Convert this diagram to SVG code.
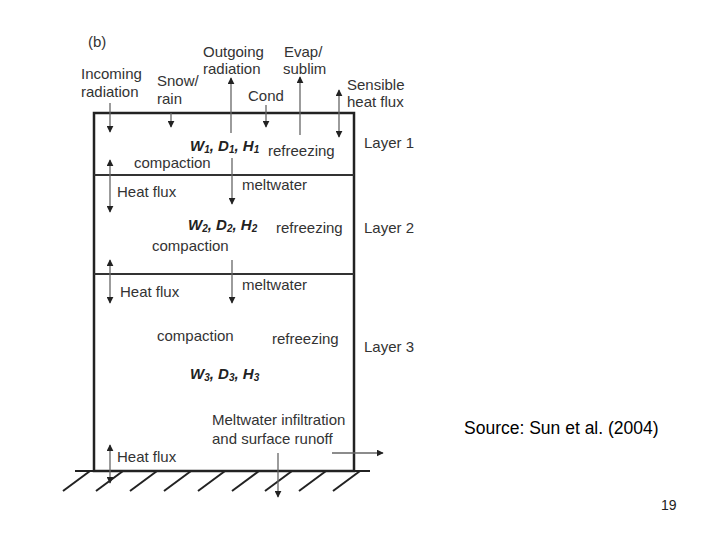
<svg xmlns="http://www.w3.org/2000/svg" width="720" height="540" viewBox="0 0 720 540">
<style>
text{font-family:"Liberation Sans",Arial,sans-serif;font-size:15px;fill:#333}
.b{font-weight:bold;font-style:italic;fill:#222}
.box{fill:none;stroke:#222;stroke-width:2.5}
.ly{stroke:#333;stroke-width:2}
.ar{stroke:#666;stroke-width:1.3;fill:none}
.h{stroke:#222;stroke-width:2}
</style>
<defs>
<marker id="ah" viewBox="0 0 10 10" refX="9" refY="5" markerWidth="7" markerHeight="7" markerUnits="userSpaceOnUse" orient="auto-start-reverse">
<path d="M0,0 L10,5 L0,10 z" fill="#222"/>
</marker>
</defs>
<rect width="720" height="540" fill="#fff"/>
<g id="ground">
<line class="h" x1="75" y1="471" x2="370" y2="471"/>
<line class="h" x1="63" y1="491" x2="90" y2="471"/>
<line class="h" x1="96" y1="491" x2="123" y2="471"/>
<line class="h" x1="130" y1="491" x2="157" y2="471"/>
<line class="h" x1="164" y1="491" x2="191" y2="471"/>
<line class="h" x1="198" y1="491" x2="225" y2="471"/>
<line class="h" x1="232" y1="491" x2="259" y2="471"/>
<line class="h" x1="265" y1="491" x2="292" y2="471"/>
<line class="h" x1="299" y1="491" x2="326" y2="471"/>
<line class="h" x1="333" y1="491" x2="360" y2="471"/>
</g>
<g id="snowpack">
<rect class="box" x="94" y="113" width="260" height="358"/>
<line class="ly" x1="94" y1="175" x2="354" y2="175"/>
<line class="ly" x1="94" y1="274" x2="354" y2="274"/>
</g>
<g id="connectors">
<line class="ar" x1="110" y1="103" x2="110" y2="132" marker-end="url(#ah)"/>
<line class="ar" x1="171" y1="113" x2="171" y2="127" marker-end="url(#ah)"/>
<line class="ar" x1="231" y1="133" x2="231" y2="78" marker-end="url(#ah)"/>
<line class="ar" x1="266" y1="105" x2="266" y2="127" marker-end="url(#ah)"/>
<line class="ar" x1="300" y1="135" x2="300" y2="77" marker-end="url(#ah)"/>
<line class="ar" x1="339" y1="90" x2="339" y2="137" marker-start="url(#ah)" marker-end="url(#ah)"/>
<line class="ar" x1="110" y1="160" x2="110" y2="212" marker-start="url(#ah)" marker-end="url(#ah)"/>
<line class="ar" x1="232" y1="158" x2="232" y2="204" marker-end="url(#ah)"/>
<line class="ar" x1="110" y1="260" x2="110" y2="303" marker-start="url(#ah)" marker-end="url(#ah)"/>
<line class="ar" x1="232" y1="260" x2="232" y2="303" marker-end="url(#ah)"/>
<line class="ar" x1="110" y1="445" x2="110" y2="483" marker-start="url(#ah)" marker-end="url(#ah)"/>
<line class="ar" x1="278" y1="453" x2="278" y2="497" marker-end="url(#ah)"/>
<line class="ar" x1="332" y1="453" x2="383" y2="453" marker-end="url(#ah)"/>
</g>
<g id="labels">
<text x="88" y="47">(b)</text>
<text x="81" y="79">Incoming</text>
<text x="81" y="97">radiation</text>
<text x="157" y="86">Snow/</text>
<text x="157" y="104">rain</text>
<text x="203" y="57">Outgoing</text>
<text x="203" y="74">radiation</text>
<text x="284" y="57">Evap/</text>
<text x="283" y="74">sublim</text>
<text x="248" y="101">Cond</text>
<text x="347" y="90">Sensible</text>
<text x="347" y="107">heat flux</text>
</g>
<g id="layer1">
<text class="b" x="190" y="151">W<tspan font-size="10" dy="2">1</tspan><tspan dy="-2">, D</tspan><tspan font-size="10" dy="2">1</tspan><tspan dy="-2">, H</tspan><tspan font-size="10" dy="2">1</tspan></text>
<text x="268" y="156">refreezing</text>
<text x="364" y="148">Layer 1</text>
<text x="134" y="168">compaction</text>
</g>
<g id="layer2">
<text x="242" y="190">meltwater</text>
<text x="117" y="197">Heat flux</text>
<text class="b" x="188" y="230">W<tspan font-size="10" dy="2">2</tspan><tspan dy="-2">, D</tspan><tspan font-size="10" dy="2">2</tspan><tspan dy="-2">, H</tspan><tspan font-size="10" dy="2">2</tspan></text>
<text x="276" y="233">refreezing</text>
<text x="364" y="233">Layer 2</text>
<text x="152" y="251">compaction</text>
</g>
<g id="layer3">
<text x="120" y="297">Heat flux</text>
<text x="242" y="290">meltwater</text>
<text x="157" y="341">compaction</text>
<text x="272" y="344">refreezing</text>
<text x="364" y="352">Layer 3</text>
<text class="b" x="190" y="379">W<tspan font-size="10" dy="2">3</tspan><tspan dy="-2">, D</tspan><tspan font-size="10" dy="2">3</tspan><tspan dy="-2">, H</tspan><tspan font-size="10" dy="2">3</tspan></text>
<text x="212" y="425">Meltwater infiltration</text>
<text x="212" y="444">and surface runoff</text>
<text x="117" y="462">Heat flux</text>
</g>
<g id="footer">
<text x="464" y="434" style="font-size:17.5px;fill:#000">Source: Sun et al. (2004)</text>
<text x="661" y="510" style="font-size:14px;fill:#222">19</text>
</g>
</svg>
